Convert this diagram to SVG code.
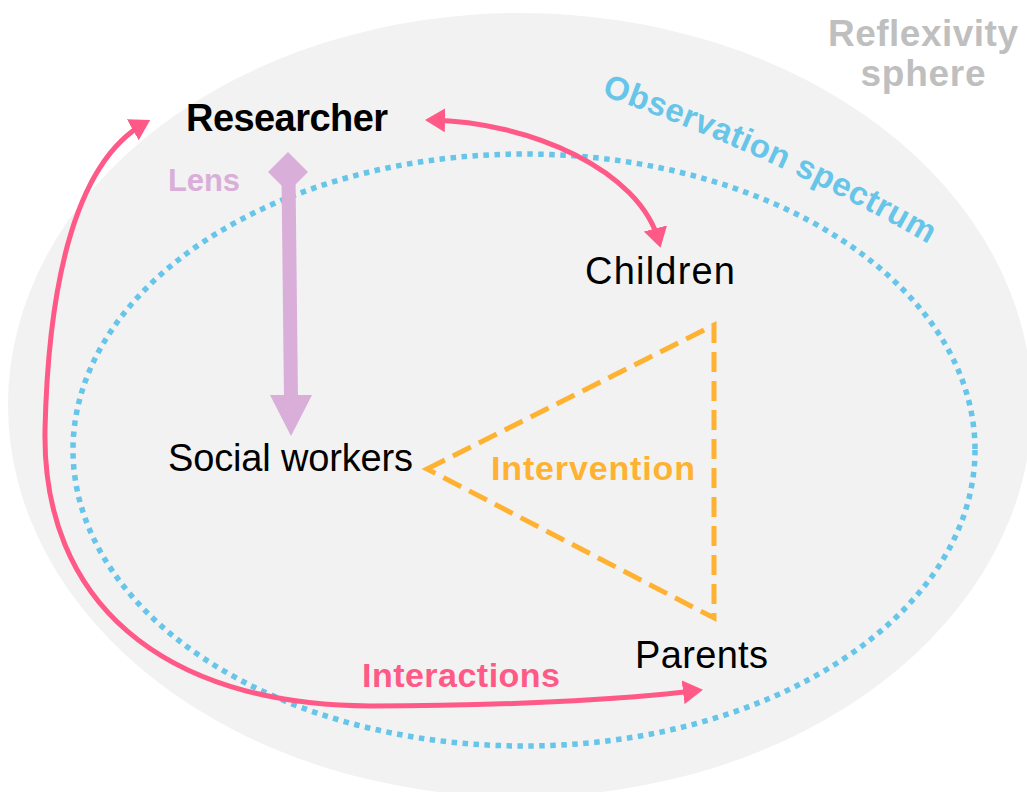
<svg xmlns="http://www.w3.org/2000/svg" width="1027" height="792" viewBox="0 0 1027 792">
<style>
  text { font-family: "Liberation Sans", Arial, sans-serif; }
  .node { fill: #000000; font-size: 38px; }
  .bold { font-weight: bold; }
  .pink { stroke: #ff5a87; stroke-width: 5; fill: none; }
  .tri { stroke: #ffb232; stroke-width: 5; fill: none; stroke-dasharray: 20 9; stroke-linejoin: miter; }
  .obs { stroke: #66c5e8; stroke-width: 5.5; fill: none; stroke-dasharray: 5.5 5.5; }
</style>
<defs>
  <marker id="ah" viewBox="0 0 20 24" refX="14" refY="12" markerWidth="20" markerHeight="24" markerUnits="userSpaceOnUse" orient="auto-start-reverse">
    <path d="M0,0 L20,12 L0,24 z" fill="#ff5a87"/>
  </marker>
  <path id="obsPath" d="M 601,95 Q 785,160 937,249"/>
</defs>

<g id="reflexivity-sphere">
  <ellipse cx="520" cy="405" rx="512" ry="392" fill="#f2f2f2"/>
  <text x="923" y="46" text-anchor="middle" font-size="37" font-weight="bold" fill="#bfbfbf" textLength="190">Reflexivity</text>
  <text x="923" y="86" text-anchor="middle" font-size="37" font-weight="bold" fill="#bfbfbf" textLength="125">sphere</text>
</g>

<g id="observation-spectrum">
  <ellipse class="obs" cx="524" cy="450" rx="451" ry="296"/>
  <text font-size="33" font-weight="bold" fill="#66c5e8"><textPath href="#obsPath" textLength="360">Observation spectrum</textPath></text>
</g>

<g id="connectors">
  <path class="pink" d="M 431,120 C 530,122 640,170 659,242" marker-start="url(#ah)" marker-end="url(#ah)"/>
  <path class="pink" d="M 145,123 C 70,165 48,300 45,430 C 42,600 160,705 370,706 C 500,706 620,700 697,690.5" marker-start="url(#ah)" marker-end="url(#ah)"/>
  <text x="362" y="687" font-size="34" font-weight="bold" fill="#ff5a87" textLength="198">Interactions</text>

  <g id="lens">
    <polygon points="288,152 308,172 288,192 268,172" fill="#d9aed9"/>
    <line x1="288.5" y1="175" x2="291" y2="400" stroke="#d9aed9" stroke-width="14"/>
    <polygon points="270,395 312,395 291,436" fill="#d9aed9"/>
    <text x="168" y="191" font-size="31" font-weight="bold" fill="#d9aed9" textLength="72">Lens</text>
  </g>

  <g id="intervention">
    <polygon class="tri" points="427,469 714,325 714,618"/>
    <text x="491" y="480" font-size="34" font-weight="bold" fill="#ffb232" textLength="204">Intervention</text>
  </g>
</g>

<g id="node-researcher">
  <text class="node bold" x="186" y="131" font-size="37" textLength="202">Researcher</text>
</g>
<g id="node-children">
  <text class="node" x="585" y="284" textLength="150">Children</text>
</g>
<g id="node-social-workers">
  <text class="node" x="168" y="471" textLength="245">Social workers</text>
</g>
<g id="node-parents">
  <text class="node" x="635" y="668" textLength="133">Parents</text>
</g>
</svg>
